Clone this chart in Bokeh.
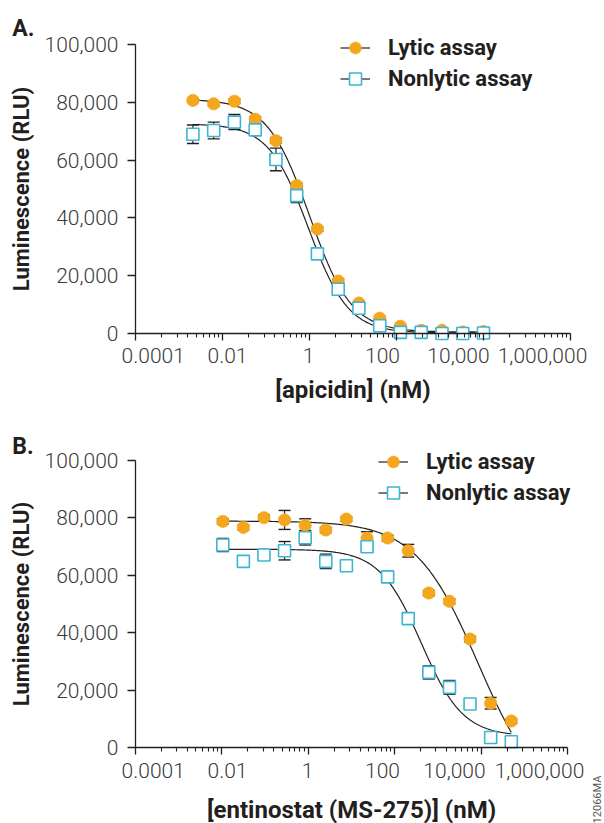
import numpy as np
from bokeh.plotting import figure
from bokeh.layouts import column
from bokeh.models import FixedTicker, Range1d, Legend, LegendItem, Label, NumeralTickFormatter
from bokeh.embed import file_html
from bokeh.resources import INLINE

# A. apicidin, 3-fold dilution series (nM)
apicidin_nM = [0.00209, 0.00627, 0.0188, 0.0565, 0.169, 0.508, 1.52, 4.57,
               13.7, 41.2, 123, 370, 1111, 3333, 10000]
apicidin_lytic = [80600, 79400, 80300, 74100, 66700, 51200, 36200, 18200,
                  10600, 5400, 2600, 1200, 1200, 600, 800]
apicidin_lytic_err = [600, 700, 800, 900, 900, 700, 600, 700,
                      600, 500, 300, 200, 200, 200, 200]
apicidin_nonlytic = [68900, 70200, 73100, 70400, 60200, 47700, 27600, 15400,
                     8800, 2800, 500, 500, 100, 100, 300]
apicidin_nonlytic_err = [3200, 2900, 2600, 1000, 3900, 2400, 900, 800,
                         700, 400, 200, 200, 100, 100, 100]

# B. entinostat (MS-275), 3-fold dilution series (nM)
entinostat_nM = [0.0105, 0.0314, 0.0941, 0.282, 0.847, 2.54, 7.62, 22.9,
                 68.6, 206, 617, 1852, 5556, 16667, 50000]
entinostat_lytic = [78700, 76600, 80000, 79200, 77300, 75700, 79500, 72900,
                    72900, 68500, 53800, 50900, 37800, 15500, 9300]
entinostat_lytic_err = [900, 800, 900, 3300, 2300, 900, 800, 2200,
                        1000, 2200, 900, 800, 900, 2000, 800]
entinostat_nonlytic = [70500, 64800, 67000, 68500, 73000, 64800, 63300, 69900,
                       59400, 44900, 26200, 21000, 15200, 3600, 2100]
entinostat_nonlytic_err = [2300, 900, 900, 3200, 2500, 2500, 900, 1500,
                           900, 900, 2300, 2400, 900, 800, 700]

# four-parameter logistic fits: top, bottom, IC50 (nM), Hill slope
apicidin_lytic_fit = [81000, 600, 1.0, 0.9]
apicidin_nonlytic_fit = [72500, 300, 0.95, 0.95]
entinostat_lytic_fit = [78800, -20000, 8500, 0.6]
entinostat_nonlytic_fit = [69000, 4000, 410, 0.9]

x_major = [1e-4, 1e-2, 1, 1e2, 1e4, 1e6]
x_tick_labels = ["0.0001", "0.01", "1", "100", "10,000", "1,000,000"]
y_ticks = [0, 20000, 40000, 60000, 80000, 100000]

ORANGE = "#F4A71D"
TEAL = "#3DB5D0"
INK = "#231F20"
GREY = "#3a3a3a"
BOLD = "Roboto"
LIGHT = "'Roboto Light', Roboto, sans-serif"
FIG_W = 604
AXIS_LEFT = 135  # pixel column of the y axis inside each figure


def add_fit(p, conc, fit):
    top, bottom, ic50, hill = fit
    xs = np.logspace(np.log10(conc[0]), np.log10(conc[-1]), 300)
    ys = bottom + (top - bottom) / (1 + (xs / ic50) ** hill)
    return p.line(xs, ys, line_color=INK, line_width=1.2)


def add_errors(p, conc, y, err):
    lo = [v - e for v, e in zip(y, err)]
    hi = [v + e for v, e in zip(y, err)]
    p.segment(conc, lo, conc, hi, line_color=INK, line_width=1.2)
    p.scatter(conc + conc, lo + hi, marker="dash", size=12, line_color=INK, line_width=1.4)


def make_panel(letter, conc, lytic, lytic_err, nonlytic, nonlytic_err, lytic_fit, nonlytic_fit,
               x_title, fig_h, px_dec, px_k, zero_px, legend_loc, label_px, letter_px, title_standoff):
    # whole figure is the frame; axes sit at fixed data locations
    lo_dec = -4 - AXIS_LEFT / px_dec
    hi_dec = -4 + (FIG_W - AXIS_LEFT) / px_dec
    y_top = zero_px / px_k * 1000
    y_bot = -(fig_h - zero_px) / px_k * 1000

    def at(fx, fy):
        return 10 ** (lo_dec + fx / px_dec), y_top - fy / px_k * 1000

    p = figure(width=FIG_W, height=fig_h, x_axis_type="log",
               x_range=Range1d(10 ** lo_dec, 10 ** hi_dec), y_range=Range1d(y_bot, y_top),
               min_border=0, title=None, output_backend="svg", toolbar_location=None,
               outline_line_color=None)
    p.grid.visible = False

    minor = [10.0 ** d * k * k for d in (-4, -2, 0, 2, 4) for k in range(2, 10)]
    xa = p.xaxis[0]
    xa.ticker = FixedTicker(ticks=x_major, minor_ticks=minor)
    xa.fixed_location = 0
    xa.bounds = (1e-4, 1e6)
    xa.major_label_text_font_size = "1px"
    xa.major_label_text_color = None
    xa.major_label_standoff = 0
    xa.major_tick_out, xa.major_tick_in = 7, 0
    xa.minor_tick_out, xa.minor_tick_in = 4, 0
    xa.axis_line_color = INK
    xa.major_tick_line_color = INK
    xa.minor_tick_line_color = INK
    xa.axis_line_width = 1.3
    xa.major_tick_line_width = 1.3
    xa.minor_tick_line_width = 1.1
    xa.axis_label = x_title
    xa.axis_label_text_font = BOLD
    xa.axis_label_text_font_style = "bold"
    xa.axis_label_text_font_size = "24px"
    xa.axis_label_text_color = INK
    xa.axis_label_standoff = title_standoff

    ya = p.yaxis[0]
    ya.ticker = FixedTicker(ticks=y_ticks, minor_ticks=[])
    ya.formatter = NumeralTickFormatter(format="0,0")
    ya.fixed_location = 1e-4
    ya.bounds = (0, 100000)
    ya.major_tick_out, ya.major_tick_in = 8, 0
    ya.axis_line_color = INK
    ya.major_tick_line_color = INK
    ya.axis_line_width = 1.3
    ya.major_tick_line_width = 1.3
    ya.major_label_standoff = 9
    ya.major_label_text_font = LIGHT
    ya.major_label_text_font_size = "21px"
    ya.major_label_text_color = GREY
    ya.axis_label = "Luminescence (RLU)"
    ya.axis_label_text_font = BOLD
    ya.axis_label_text_font_style = "bold"
    ya.axis_label_text_font_size = "22px"
    ya.axis_label_text_color = INK
    ya.axis_label_standoff = 8

    for txt, (fx, fy) in zip(x_tick_labels, label_px):
        lx, ly = at(fx, fy)
        p.add_layout(Label(x=lx, y=ly, text=txt, text_align="center",
                           text_baseline="middle", text_font=LIGHT,
                           text_font_size="21px", text_color=GREY))

    lx, ly = at(*letter_px)
    p.add_layout(Label(x=lx, y=ly, text=letter, text_font=BOLD,
                       text_font_style="bold", text_font_size="23px", text_color=INK,
                       text_baseline="alphabetic"))

    lytic_line = add_fit(p, conc, lytic_fit)
    nonlytic_line = add_fit(p, conc, nonlytic_fit)
    add_errors(p, conc, lytic, lytic_err)
    add_errors(p, conc, nonlytic, nonlytic_err)
    lytic_pts = p.scatter(conc, lytic, marker="circle", size=12.5, fill_color=ORANGE,
                          line_color=ORANGE, line_width=0.5)
    nonlytic_pts = p.scatter(conc, nonlytic, marker="square", size=12, fill_color="white",
                             line_color=TEAL, line_width=1.6)

    legend = Legend(items=[LegendItem(label="Lytic assay", renderers=[lytic_line, lytic_pts]),
                           LegendItem(label="Nonlytic assay", renderers=[nonlytic_line, nonlytic_pts])],
                    location=legend_loc, glyph_width=30, glyph_height=31, label_height=31,
                    spacing=0, padding=0, margin=0, label_standoff=18,
                    border_line_color=None, background_fill_alpha=0,
                    label_text_font=BOLD, label_text_font_style="bold",
                    label_text_font_size="22px", label_text_color=INK,
                    label_text_baseline="middle")
    p.add_layout(legend)
    return p, at


pA, atA = make_panel("A.", apicidin_nM, apicidin_lytic, apicidin_lytic_err,
                     apicidin_nonlytic, apicidin_nonlytic_err,
                     apicidin_lytic_fit, apicidin_nonlytic_fit,
                     "[apicidin] (nM)", 420, 43.5, 2.896, 333.3, (340, 326),
                     [(x, 355) for x in (152.7, 227, 308, 382, 458, 542)], (11.7, 28.3), 35)

pB, atB = make_panel("B.", entinostat_nM, entinostat_lytic, entinostat_lytic_err,
                     entinostat_nonlytic, entinostat_nonlytic_err,
                     entinostat_lytic_fit, entinostat_nonlytic_fit,
                     "[entinostat (MS-275)] (nM)", 403, 43.2, 2.877, 327.3, (378, 315),
                     [(x, 350) for x in (152.7, 227, 307, 382, 454, 539)], (11.7, 25.5), 41)

tx, ty = atB(597, 379)
pB.add_layout(Label(x=tx, y=ty, text="12066MA", angle=90, angle_units="deg",
                    text_align="center", text_baseline="middle", text_font="Roboto",
                    text_font_size="11px", text_color="#555555"))

layout = column(pA, pB, spacing=0)
open("out.html", "w").write(file_html(layout, INLINE))
